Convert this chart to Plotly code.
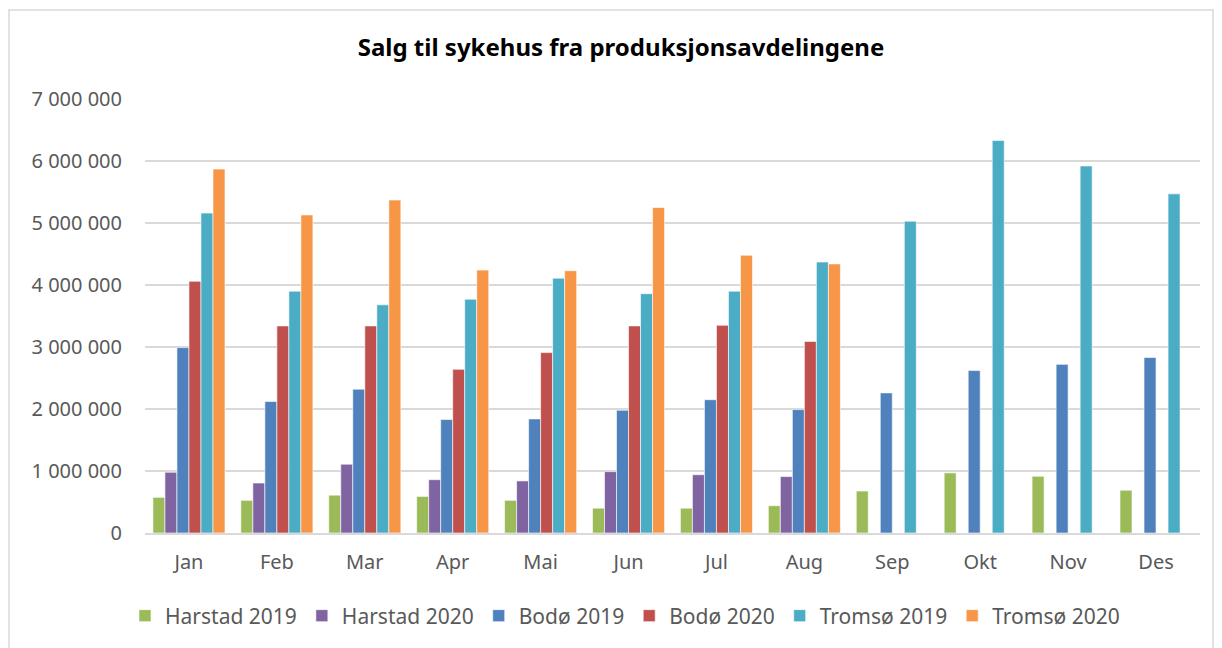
import plotly.graph_objects as go

months = ["Jan", "Feb", "Mar", "Apr", "Mai", "Jun", "Jul", "Aug", "Sep", "Okt", "Nov", "Des"]

harstad_2019 = [575000, 527000, 610000, 590000, 527000, 400000, 400000, 440000, 677000, 970000, 915000, 690000]
harstad_2020 = [980000, 806000, 1110000, 860000, 840000, 990000, 940000, 910000, None, None, None, None]
bodo_2019 = [2990000, 2120000, 2320000, 1830000, 1840000, 1980000, 2150000, 1990000, 2260000, 2620000, 2720000, 2830000]
bodo_2020 = [4060000, 3340000, 3340000, 2640000, 2910000, 3340000, 3350000, 3090000, None, None, None, None]
tromso_2019 = [5160000, 3900000, 3680000, 3770000, 4110000, 3860000, 3900000, 4370000, 5030000, 6330000, 5920000, 5470000]
tromso_2020 = [5870000, 5130000, 5370000, 4240000, 4230000, 5250000, 4480000, 4340000, None, None, None, None]

series = [
    ("Harstad 2019", harstad_2019, "#9BBB59"),
    ("Harstad 2020", harstad_2020, "#8064A2"),
    ("Bodø 2019", bodo_2019, "#4F81BD"),
    ("Bodø 2020", bodo_2020, "#C0504D"),
    ("Tromsø 2019", tromso_2019, "#4BACC6"),
    ("Tromsø 2020", tromso_2020, "#F79646"),
]

fig = go.Figure()
for name, values, color in series:
    fig.add_bar(
        x=months,
        y=values,
        name=name,
        marker_color=color,
        marker_line_color="white",
        marker_line_width=0.6,
    )

# the page body has an 8px margin, so the figure starts at (8, 8) in the window
W, H = 1214, 640
off = 8
pl, pr, pt, pb = 145 - off, 1200 - off, 99 - off, 533 - off


def px(x):
    return (x - off - pl) / (pr - pl)


def py(y):
    return (pb - (y - off)) / (pb - pt)


fig.add_shape(
    type="rect",
    xref="paper",
    yref="paper",
    x0=px(9),
    x1=px(1213),
    y0=py(650),
    y1=py(10),
    line=dict(color="#D9D9D9", width=1.5),
    layer="below",
)

fig.update_layout(
    width=W,
    height=H,
    margin=dict(l=pl, r=W - pr, t=pt, b=H - pb, autoexpand=False),
    paper_bgcolor="white",
    plot_bgcolor="white",
    barmode="group",
    bargap=0.18,
    bargroupgap=0,
    separators=", ",
    font=dict(family="Noto Sans", color="#595959", size=20),
    title=dict(
        text="<b>Salg til sykehus fra produksjonsavdelingene</b>",
        x=px(621),
        xref="paper",
        xanchor="center",
        y=1 - (48 - off) / H,
        yanchor="middle",
        font=dict(family="Noto Sans", size=24, color="black"),
    ),
    legend=dict(
        orientation="h",
        x=px(625),
        xanchor="center",
        y=py(616),
        yanchor="middle",
        font=dict(size=21, color="#595959"),
        itemwidth=30,
        traceorder="normal",
    ),
    showlegend=True,
)
fig.update_yaxes(
    range=[0, 7000000],
    dtick=1000000,
    tickformat=",d",
    showgrid=True,
    gridcolor="#D9D9D9",
    gridwidth=1.5,
    zeroline=False,
    showline=False,
    ticks="",
    ticklabelstandoff=22,
)
fig.update_xaxes(
    showline=True,
    linecolor="#D9D9D9",
    linewidth=1.5,
    ticks="",
    ticklabelstandoff=10,
)

fig.write_html("out.html")
